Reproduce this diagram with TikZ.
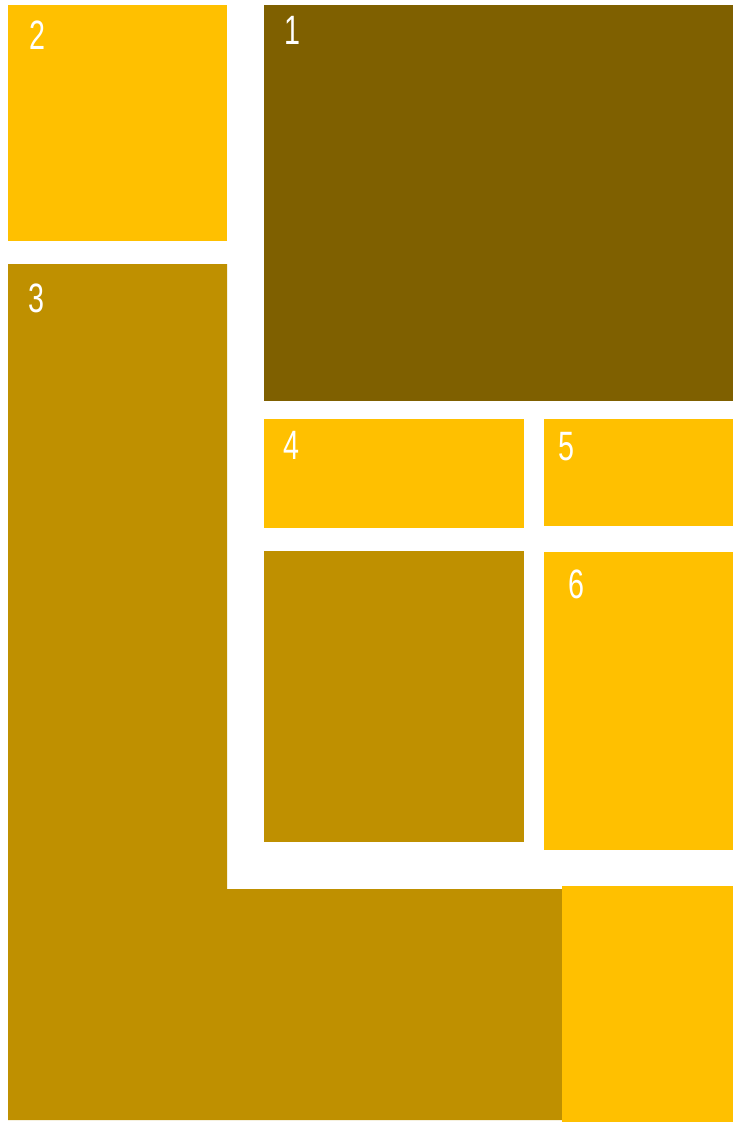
\documentclass[tikz,border=0pt]{standalone}
\usepackage{fontspec}
\setmainfont{Liberation Sans}
\definecolor{gold}{HTML}{FFC000}
\definecolor{darkgold}{HTML}{BF9000}
\definecolor{brownish}{HTML}{7F6000}
\begin{document}
\begin{tikzpicture}[x=1pt,y=-1pt,
  blk/.style={draw=none},
  lbl/.style={anchor=north west,inner sep=0pt,text=white,font=\fontsize{41}{41}\selectfont}]
\useasboundingbox (0,0) rectangle (733,1122);
\fill[white] (0,0) rectangle (733,1122);
% box 1
\fill[brownish] (264,5) rectangle (733,401);
% box 2
\fill[gold] (8,5) rectangle (227,241);
% box 3 (L shape)
\fill[darkgold] (8,264) -- (227,264) -- (227,889) -- (562,889) -- (562,1120) -- (8,1120) -- cycle;
% box 4
\fill[gold] (264,419) rectangle (524,528);
% box 5
\fill[gold] (544,419) rectangle (733,526);
% dark box under 4
\fill[darkgold] (264,551) rectangle (524,842);
% box 6
\fill[gold] (544,552) rectangle (733,850);
% bottom right box
\fill[gold] (562,886) rectangle (733,1122);
% labels
\node[lbl] (l1) at (284,16) {\scalebox{0.7}[1]{1}};
\node[lbl] (l2) at (29,21) {\scalebox{0.7}[1]{2}};
\node[lbl] (l3) at (28,284) {\scalebox{0.7}[1]{3}};
\node[lbl] (l4) at (283,431) {\scalebox{0.7}[1]{4}};
\node[lbl] (l5) at (558,432) {\scalebox{0.7}[1]{5}};
\node[lbl] (l6) at (568,570) {\scalebox{0.7}[1]{6}};
\end{tikzpicture}
\end{document}
